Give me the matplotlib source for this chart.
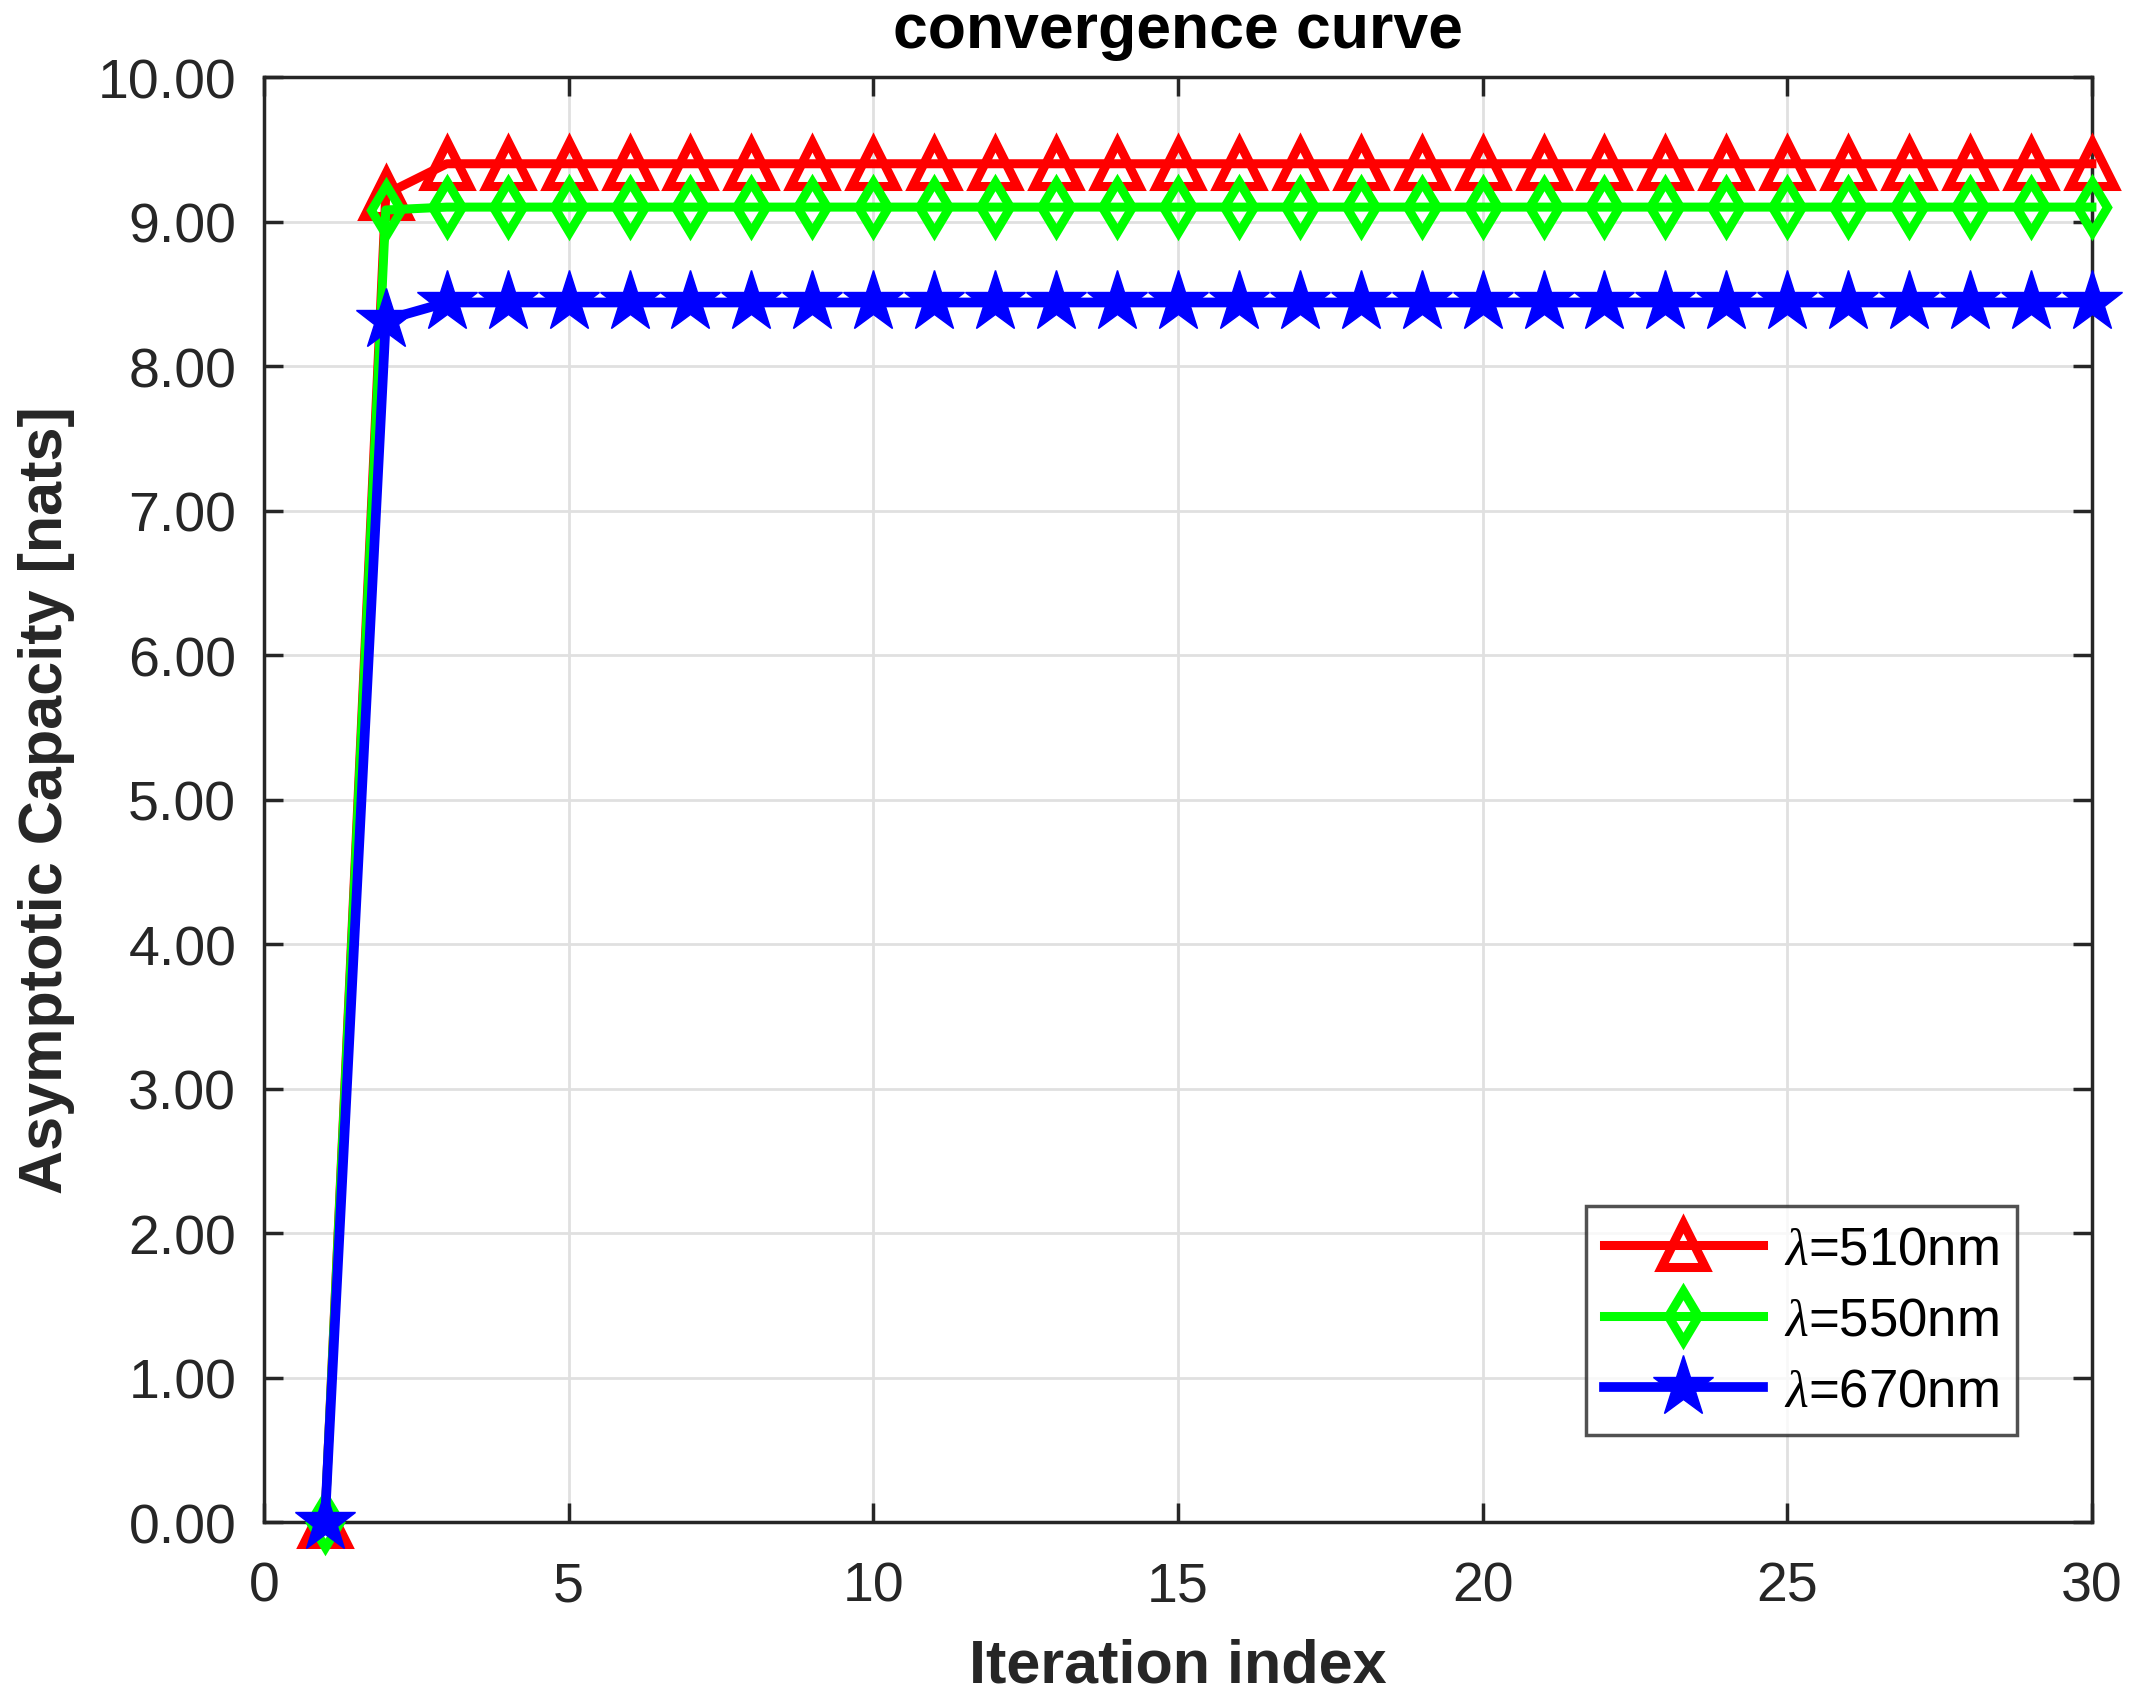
import matplotlib
matplotlib.use("Agg")
import matplotlib.pyplot as plt
import numpy as np

iterations = list(range(1, 31))
cap_510 = [0.0, 9.19] + [9.40] * 28
cap_550 = [0.0, 9.08] + [9.10] * 28
cap_670 = [0.0, 8.32] + [8.44] * 28
labels = [r"$\lambda$=510nm", r"$\lambda$=550nm", r"$\lambda$=670nm"]

plt.rcParams['font.family'] = ['Liberation Sans', 'DejaVu Sans']
plt.rcParams['mathtext.fontset'] = 'custom'
plt.rcParams['mathtext.it'] = 'Liberation Serif:italic'

fig = plt.figure(figsize=(21.44, 17.08), dpi=100)
ax = fig.add_axes([0.1231, 0.1083, 0.8526, 0.846])

ax.plot(iterations, cap_510, color='#ff0000', lw=6.5, marker='^', ms=31,
        mfc='none', mec='#ff0000', mew=6.5, label=labels[0], clip_on=False, zorder=3)
ax.plot(iterations, cap_550, color='#00ff00', lw=6.5, marker='d', ms=25,
        mfc='none', mec='#00ff00', mew=6.5, label=labels[1], clip_on=False, zorder=4)
ax.plot(iterations, cap_670, color='#0000ff', lw=7, marker='*', ms=46,
        mfc='#0000ff', mec='#0000ff', mew=1, label=labels[2], clip_on=False, zorder=5)

ax.set_xlim(0, 30)
ax.set_ylim(0, 10)
ax.set_xticks([0, 5, 10, 15, 20, 25, 30])
ax.set_yticks(np.arange(0, 11, 1))
ax.set_yticklabels([f"{v:.2f}" for v in np.arange(0, 11, 1)])
ax.grid(True, color='#e0e0e0', lw=2)
ax.set_axisbelow(True)
ax.tick_params(direction='in', length=14, width=2.5, labelsize=40, colors='#262626',
               top=True, right=True)
ax.tick_params(axis='x', pad=28)
ax.tick_params(axis='y', pad=20)
for s in ax.spines.values():
    s.set_linewidth(2.5)
    s.set_color('#262626')

ax.set_xlabel("Iteration index", fontsize=44, fontweight='bold', color='#262626', labelpad=18)
ax.set_ylabel("Asymptotic Capacity [nats]", fontsize=44, fontweight='bold', color='#262626', labelpad=16)
ax.set_title("convergence curve", fontsize=45, fontweight='bold', color='black', pad=22)

leg = ax.legend(loc='lower right', bbox_to_anchor=(0.959, 0.060), fontsize=38,
                frameon=True, fancybox=False, edgecolor='#262626', handlelength=3.0,
                borderpad=0.35, labelspacing=0.4, handletextpad=0.4, borderaxespad=0)
leg.get_frame().set_linewidth(2.5)

fig.savefig("out.png", dpi=100)
